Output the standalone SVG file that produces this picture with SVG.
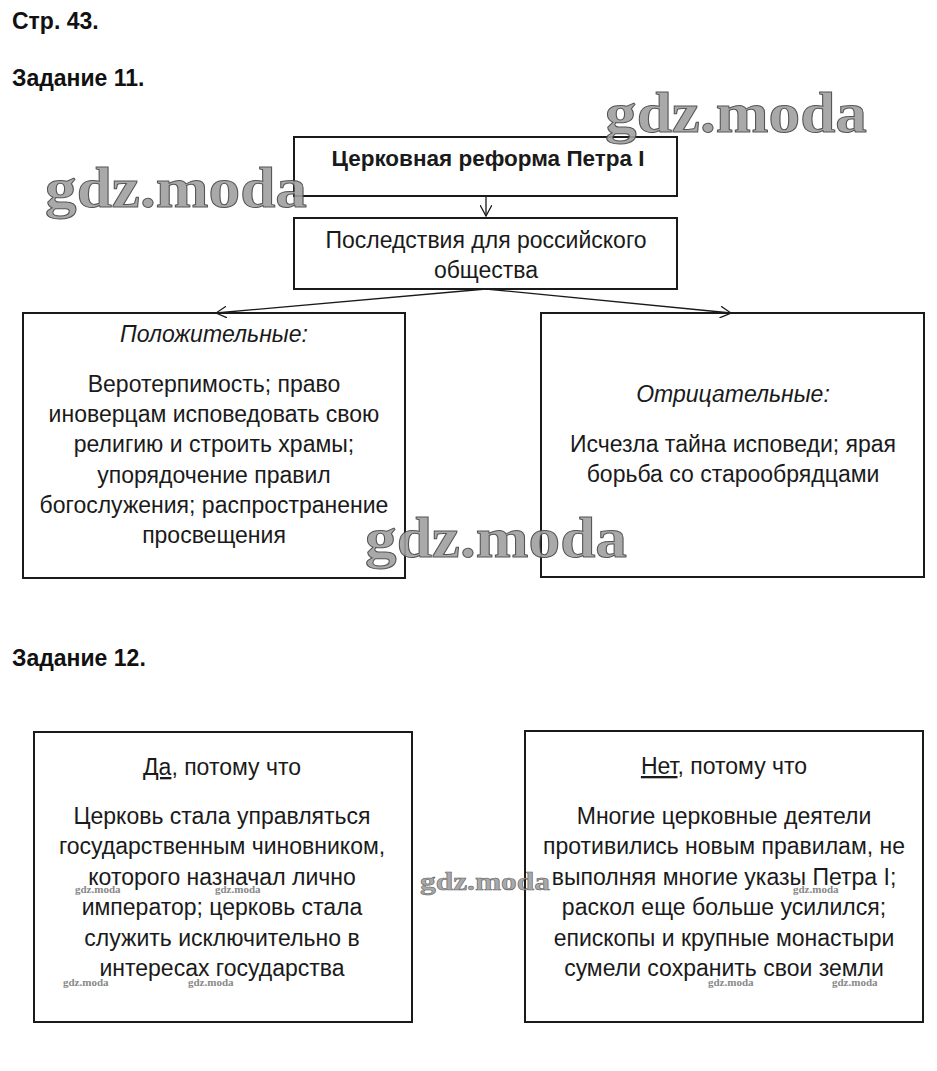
<svg xmlns="http://www.w3.org/2000/svg" width="937" height="1071" viewBox="0 0 937 1071">
<style>
.h{font-family:"Liberation Sans",Arial,sans-serif;font-weight:bold;font-size:23px;fill:#111}
.t{font-family:"Liberation Sans",Arial,sans-serif;font-size:23px;fill:#1a1a1a;text-anchor:middle}
.i{font-style:italic}
.box{fill:none;stroke:#1a1a1a;stroke-width:2}
.c{fill:none;stroke:#1a1a1a;stroke-width:1.3}
.wm{font-family:"Liberation Serif","Times New Roman",serif;font-weight:bold;fill:#a0a0a0;stroke:#444;stroke-width:1;opacity:0.9}
.ws{font-family:"Liberation Serif","Times New Roman",serif;font-weight:bold;font-size:11px;fill:#888}
</style>
<defs>
<marker id="ar" viewBox="0 0 12 12" refX="11" refY="6" markerWidth="12" markerHeight="12" markerUnits="userSpaceOnUse" orient="auto">
<path d="M0,0 L11,6 L0,12" fill="none" stroke="#1a1a1a" stroke-width="1.3"/>
</marker>
</defs>
<rect width="937" height="1071" fill="#fff"/>
<text class="h" x="12" y="29">Стр. 43.</text>
<text class="h" x="12" y="86">Задание 11.</text>
<text class="h" x="12" y="666">Задание 12.</text>

<g id="connectors">
<line class="c" x1="486" y1="196" x2="486" y2="216" marker-end="url(#ar)"/>
<line class="c" x1="486" y1="289" x2="216" y2="313" marker-end="url(#ar)"/>
<line class="c" x1="486" y1="289" x2="731" y2="313" marker-end="url(#ar)"/>
</g>

<g id="n1">
<rect class="box" x="294" y="137" width="383" height="59"/>
<text class="t" x="488" y="166" style="font-weight:bold;font-size:22.5px">Церковная реформа Петра I</text>
</g>
<g id="n2">
<rect class="box" x="294" y="218" width="383" height="71"/>
<text class="t" x="486" y="248">Последствия для российского</text>
<text class="t" x="486" y="278">общества</text>
</g>
<g id="n3">
<rect class="box" x="23" y="313" width="382" height="265"/>
<text class="t i" x="214" y="342">Положительные:</text>
<text class="t" x="214" y="392">Веротерпимость; право</text>
<text class="t" x="214" y="422">иноверцам исповедовать свою</text>
<text class="t" x="214" y="452">религию и строить храмы;</text>
<text class="t" x="214" y="483">упорядочение правил</text>
<text class="t" x="214" y="513">богослужения; распространение</text>
<text class="t" x="214" y="543">просвещения</text>
</g>
<g id="n4">
<rect class="box" x="541" y="313" width="383" height="264"/>
<text class="t i" x="733" y="402">Отрицательные:</text>
<text class="t" x="733" y="452">Исчезла тайна исповеди; ярая</text>
<text class="t" x="733" y="482">борьба со старообрядцами</text>
</g>
<g id="n5">
<rect class="box" x="34" y="732" width="378" height="290"/>
<text class="t" x="222" y="775"><tspan text-decoration="underline">Да</tspan>, потому что</text>
<text class="t" x="222" y="824">Церковь стала управляться</text>
<text class="t" x="222" y="854">государственным чиновником,</text>
<text class="t" x="222" y="885">которого назначал лично</text>
<text class="t" x="222" y="915">император; церковь стала</text>
<text class="t" x="222" y="946">служить исключительно в</text>
<text class="t" x="222" y="976">интересах государства</text>
</g>
<g id="n6">
<rect class="box" x="525" y="731" width="398" height="291"/>
<text class="t" x="724" y="774"><tspan text-decoration="underline">Нет</tspan>, потому что</text>
<text class="t" x="724" y="824">Многие церковные деятели</text>
<text class="t" x="724" y="854">противились новым правилам, не</text>
<text class="t" x="724" y="885">выполняя многие указы Петра I;</text>
<text class="t" x="724" y="915">раскол еще больше усилился;</text>
<text class="t" x="724" y="946">епископы и крупные монастыри</text>
<text class="t" x="724" y="976">сумели сохранить свои земли</text>
</g>

<g id="watermarks">
<text class="wm" x="605" y="132" font-size="58" textLength="262" lengthAdjust="spacingAndGlyphs">gdz.moda</text>
<text class="wm" x="45" y="207" font-size="58" textLength="262" lengthAdjust="spacingAndGlyphs">gdz.moda</text>
<text class="wm" x="365" y="557" font-size="58" textLength="262" lengthAdjust="spacingAndGlyphs">gdz.moda</text>
<text class="wm" x="420" y="890" font-size="26" textLength="130" lengthAdjust="spacingAndGlyphs" style="stroke-width:0.5">gdz.moda</text>
<text class="ws" x="75" y="893">gdz.moda</text>
<text class="ws" x="215" y="893">gdz.moda</text>
<text class="ws" x="63" y="986">gdz.moda</text>
<text class="ws" x="188" y="986">gdz.moda</text>
<text class="ws" x="793" y="893">gdz.moda</text>
<text class="ws" x="708" y="986">gdz.moda</text>
<text class="ws" x="832" y="986">gdz.moda</text>
</g>
</svg>
